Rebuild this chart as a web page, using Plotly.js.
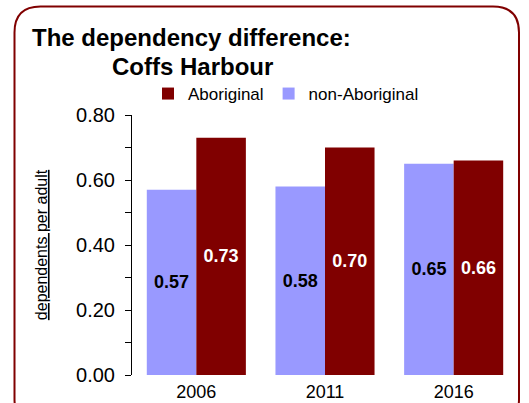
<!DOCTYPE html>
<html>
<head>
<meta charset="utf-8">
<script src="https://cdn.plot.ly/plotly-3.0.1.min.js"></script>
<style>
  html, body { margin: 0; padding: 0; background: #ffffff; }
  #chart { width: 529px; height: 403px; }
</style>
</head>
<body>
<div id="chart"></div>
<script>
// ---- data ----
var years = ['2006', '2011', '2016'];
var nonAboriginal = [0.57, 0.58, 0.65];
var aboriginal = [0.73, 0.70, 0.66];
var yTickVals = [0, 0.2, 0.4, 0.6, 0.8];
var yTickText = ['0.00', '0.20', '0.40', '0.60', '0.80'];

// ---- layout geometry (pixels) ----
var W = 529, H = 403;
var mL = 132, mR = 11, mT = 115, mB = 28;
var plotW = W - mL - mR, plotH = H - mT - mB;
function px(x) { return (x - mL) / plotW; }
function py(y) { return (H - mB - y) / plotH; }

// rounded border path in paper coords
var bL = 14.5, bR = 519, bT = 6.5, bB = 425, r = 26;
function P(x, y) { return px(x).toFixed(5) + ',' + py(y).toFixed(5); }
var borderPath =
  'M' + P(bL + r, bT) +
  ' L' + P(bR - r, bT) +
  ' Q' + P(bR, bT) + ' ' + P(bR, bT + r) +
  ' L' + P(bR, bB - r) +
  ' Q' + P(bR, bB) + ' ' + P(bR - r, bB) +
  ' L' + P(bL + r, bB) +
  ' Q' + P(bL, bB) + ' ' + P(bL, bB - r) +
  ' L' + P(bL, bT + r) +
  ' Q' + P(bL, bT) + ' ' + P(bL + r, bT) + ' Z';

var FONT = 'Liberation Sans, Arial, sans-serif';

var traces = [
  {
    type: 'bar',
    name: 'non-Aboriginal',
    x: years,
    y: nonAboriginal,
    marker: { color: '#9999ff' },
    texttemplate: '%{y:.2f}',
    textposition: 'inside',
    insidetextanchor: 'middle',
    textangle: 0,
    constraintext: 'none',
    textfont: { family: FONT, size: 18, color: '#000000', weight: 'bold' },
    hoverinfo: 'skip'
  },
  {
    type: 'bar',
    name: 'Aboriginal',
    x: years,
    y: aboriginal,
    marker: { color: '#800000' },
    texttemplate: '%{y:.2f}',
    textposition: 'inside',
    insidetextanchor: 'middle',
    textangle: 0,
    constraintext: 'none',
    textfont: { family: FONT, size: 18, color: '#ffffff', weight: 'bold' },
    hoverinfo: 'skip'
  }
];

var layout = {
  width: W,
  height: H,
  margin: { l: mL, r: mR, t: mT, b: mB, pad: 0 },
  paper_bgcolor: '#ffffff',
  plot_bgcolor: '#ffffff',
  font: { family: FONT, color: '#000000' },
  barmode: 'group',
  bargap: 0.23,
  bargroupgap: 0,
  showlegend: true,
  title: {
    text: 'The dependency difference:',
    font: { family: FONT, size: 24, color: '#000000', weight: 'bold' },
    xref: 'container', yref: 'container',
    x: 32 / W, xanchor: 'left',
    y: 1 - 38 / H, yanchor: 'middle'
  },
  annotations: [
    {
      text: 'Coffs Harbour',
      showarrow: false,
      xref: 'paper', yref: 'paper',
      x: px(110), xanchor: 'left',
      y: py(66), yanchor: 'middle',
      font: { family: FONT, size: 24, color: '#000000', weight: 'bold' }
    }
  ],
  legend: {
    orientation: 'h',
    traceorder: 'reversed',
    x: px(148), xanchor: 'left',
    y: py(94), yanchor: 'middle',
    font: { family: FONT, size: 17, color: '#000000' },
    bgcolor: 'rgba(0,0,0,0)',
    itemwidth: 30,
    itemclick: false,
    itemdoubleclick: false
  },
  xaxis: {
    type: 'category',
    showline: false,
    showgrid: false,
    zeroline: false,
    ticks: '',
    ticklabelstandoff: 4,
    tickfont: { family: FONT, size: 18, color: '#000000' },
    fixedrange: true
  },
  yaxis: {
    range: [0, 0.8],
    tickvals: yTickVals,
    ticktext: yTickText,
    ticks: 'outside',
    ticklen: 6,
    tickwidth: 1,
    tickcolor: '#000000',
    ticklabelstandoff: 6,
    minor: { dtick: 0.1, ticks: 'outside', ticklen: 6, tickwidth: 1, tickcolor: '#000000', showgrid: false },
    showline: true,
    linecolor: '#000000',
    linewidth: 1,
    showgrid: false,
    zeroline: false,
    tickfont: { family: FONT, size: 20, color: '#000000' },
    title: {
      text: '<u>dependents per adult</u>',
      font: { family: FONT, size: 16, color: '#000000' },
      standoff: 24
    },
    automargin: false,
    fixedrange: true
  },
  shapes: [
    {
      type: 'path',
      xref: 'paper', yref: 'paper',
      path: borderPath,
      line: { color: '#800000', width: 2 },
      fillcolor: 'rgba(0,0,0,0)',
      layer: 'below'
    }
  ]
};

Plotly.newPlot('chart', traces, layout, { displayModeBar: false, staticPlot: true });
</script>
</body>
</html>
